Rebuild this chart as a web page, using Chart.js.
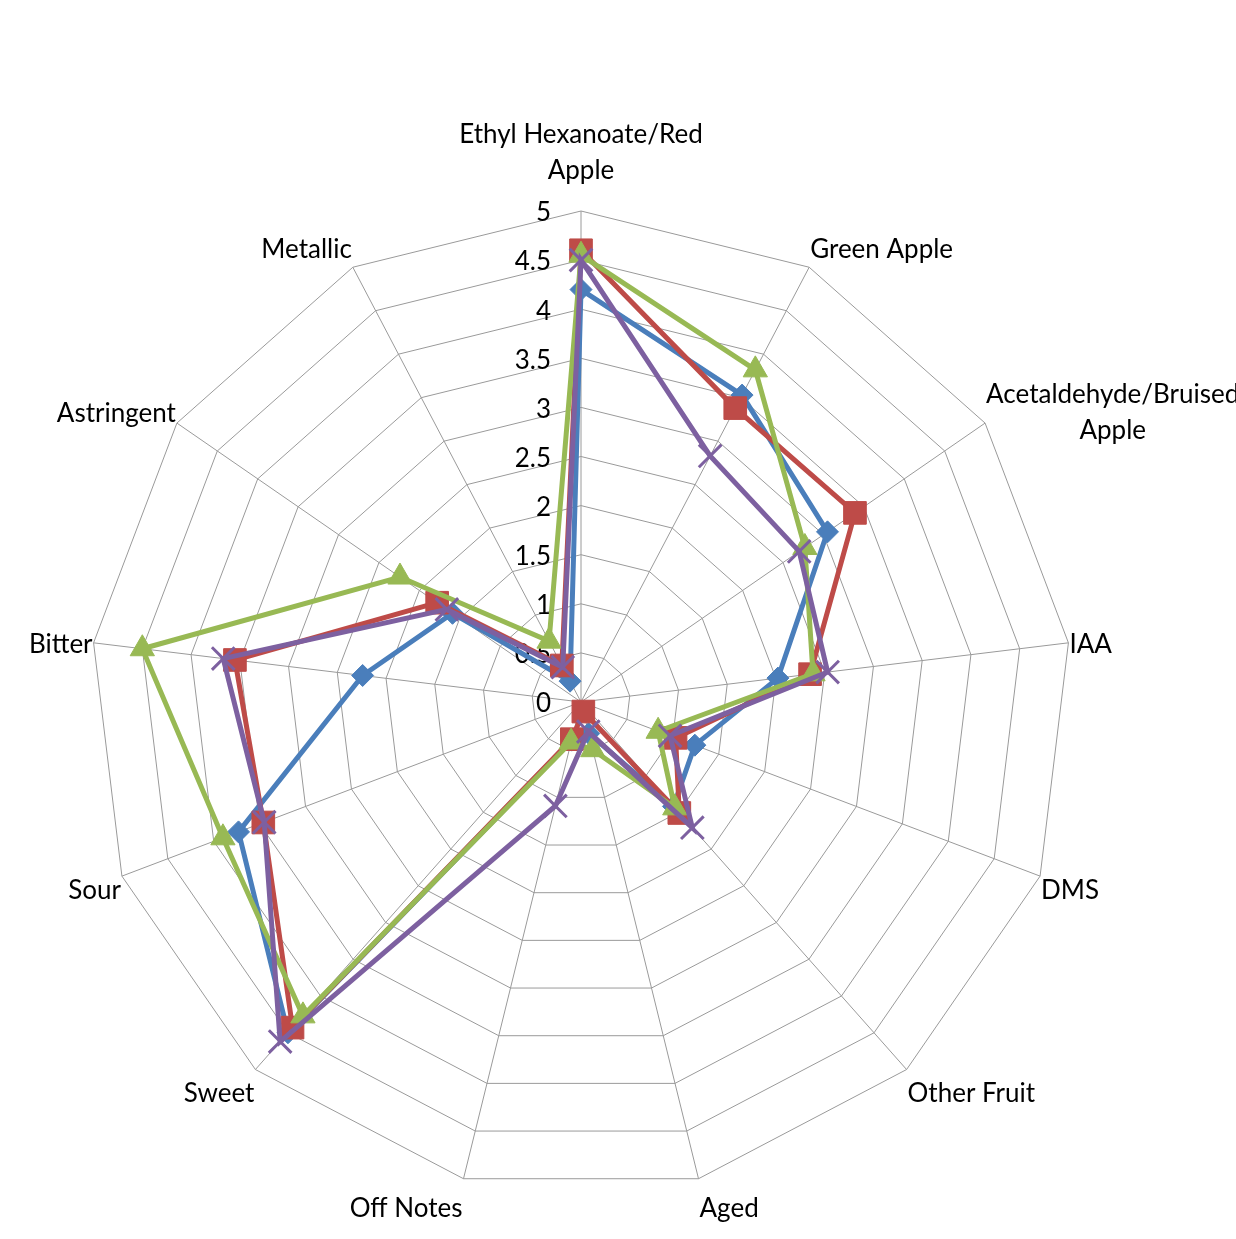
<!DOCTYPE html>
<html>
<head>
<meta charset="utf-8">
<title>Flavour radar</title>
<script src="https://cdn.jsdelivr.net/npm/chart.js@4.4.0/dist/chart.umd.min.js"></script>
<style>
  html, body { margin: 0; padding: 0; background: #fff; overflow: hidden; }
  #wrap { position: relative; width: 1236px; height: 1239px; }
</style>
</head>
<body>
<div id="wrap"><canvas id="myChart"></canvas></div>
<script>
// categories clockwise from the top, long ones wrapped like the original
const categories = [
  ["Ethyl Hexanoate/Red", "Apple"], "Green Apple", ["Acetaldehyde/Bruised", "Apple"],
  "IAA", "DMS", "Other Fruit", "Aged", "Off Notes", "Sweet", "Sour", "Bitter",
  "Astringent", "Metallic"
];
const seriesNames = ["Series1", "Series2", "Series3", "Series4"];
const series1 = [4.2, 3.53, 3.05, 2.02, 1.24, 1.42, 0.33, 0.4, 4.5, 3.73, 2.24, 1.59, 0.24];
const series2 = [4.6, 3.38, 3.39, 2.35, 1.03, 1.51, 0.1, 0.39, 4.43, 3.46, 3.55, 1.78, 0.42];
const series3 = [4.55, 3.82, 2.77, 2.38, 0.84, 1.44, 0.5, 0.42, 4.27, 3.9, 4.5, 2.24, 0.7];
const series4 = [4.5, 2.83, 2.7, 2.53, 0.97, 1.71, 0.31, 1.09, 4.62, 3.45, 3.67, 1.66, 0.4];
const scaleMin = 0;
const scaleMax = 5;
const tickStep = 0.5;

const textFont = "26px Lato";

// excel style labels: ticks to the left of the vertical axis, categories just outside the rim
const labelPlugin = {
  id: "excelLabels",
  beforeDatasetsDraw(chart) {
    const r = chart.scales.r;
    const ctx = chart.ctx;
    ctx.save();
    ctx.font = textFont;
    ctx.fillStyle = "#000";
    ctx.textAlign = "right";
    ctx.textBaseline = "middle";
    r.ticks.forEach(t => {
      const d = r.getDistanceFromCenterForValue(t.value);
      ctx.fillText(t.label, r.xCenter - 30, r.yCenter - d + 2);
    });
    const lh = 36;
    ctx.textAlign = "center";
    chart.data.labels.forEach((lab, i) => {
      const lines = Array.isArray(lab) ? lab : [lab];
      const a = r.getIndexAngle(i);
      const sin = Math.sin(a), cos = Math.cos(a);
      const p = r.getPointPosition(i, r.drawingArea);
      const w = Math.max(...lines.map(s => ctx.measureText(s).width));
      let cx = p.x;
      if (sin > 0.05) cx = p.x + w / 2 + 1;
      else if (sin < -0.05) cx = p.x - w / 2 - 1;
      const cy = p.y + 5 - 26 * cos - (lines.length - 1) * 37 * Math.pow(Math.max(cos, 0), 8);
      lines.forEach((s, k) => ctx.fillText(s, cx, cy + (k - (lines.length - 1) / 2) * lh));
    });
    ctx.restore();
  }
};

const makeSet = (name, data, color, style, radius, order) => ({
  label: name,
  data: data,
  borderColor: color,
  backgroundColor: color,
  pointBackgroundColor: color,
  pointBorderColor: color,
  pointStyle: style,
  pointRadius: radius,
  pointBorderWidth: style === "crossRot" ? 3 : 1,
  borderWidth: 5,
  fill: false,
  order: order
});

const displayChart = () => {
  const ctx = document.getElementById("myChart");
  new Chart(ctx, {
    type: "radar",
    data: {
      labels: categories,
      datasets: [
        makeSet(seriesNames[0], series1, "#4A7EBB", "rectRot", 11, 4),
        makeSet(seriesNames[1], series2, "#BE4B48", "rect", 16, 3),
        makeSet(seriesNames[2], series3, "#98B954", "triangle", 14, 2),
        makeSet(seriesNames[3], series4, "#7D60A0", "crossRot", 16, 1)
      ]
    },
    options: {
      responsive: true,
      maintainAspectRatio: false,
      animation: false,
      layout: { padding: { left: 90, right: 164, top: 211, bottom: 46 } },
      plugins: { legend: { display: false }, tooltip: { enabled: false } },
      elements: { line: { tension: 0 } },
      scales: {
        r: {
          min: scaleMin,
          max: scaleMax,
          ticks: { stepSize: tickStep, display: false, callback: v => String(v) },
          pointLabels: { display: false },
          grid: { color: "#9a9a9a", lineWidth: 1 },
          angleLines: { color: "#9a9a9a", lineWidth: 1 }
        }
      }
    },
    plugins: [labelPlugin]
  });
};

document.fonts.load(textFont).then(displayChart, displayChart);
</script>
</body>
</html>
